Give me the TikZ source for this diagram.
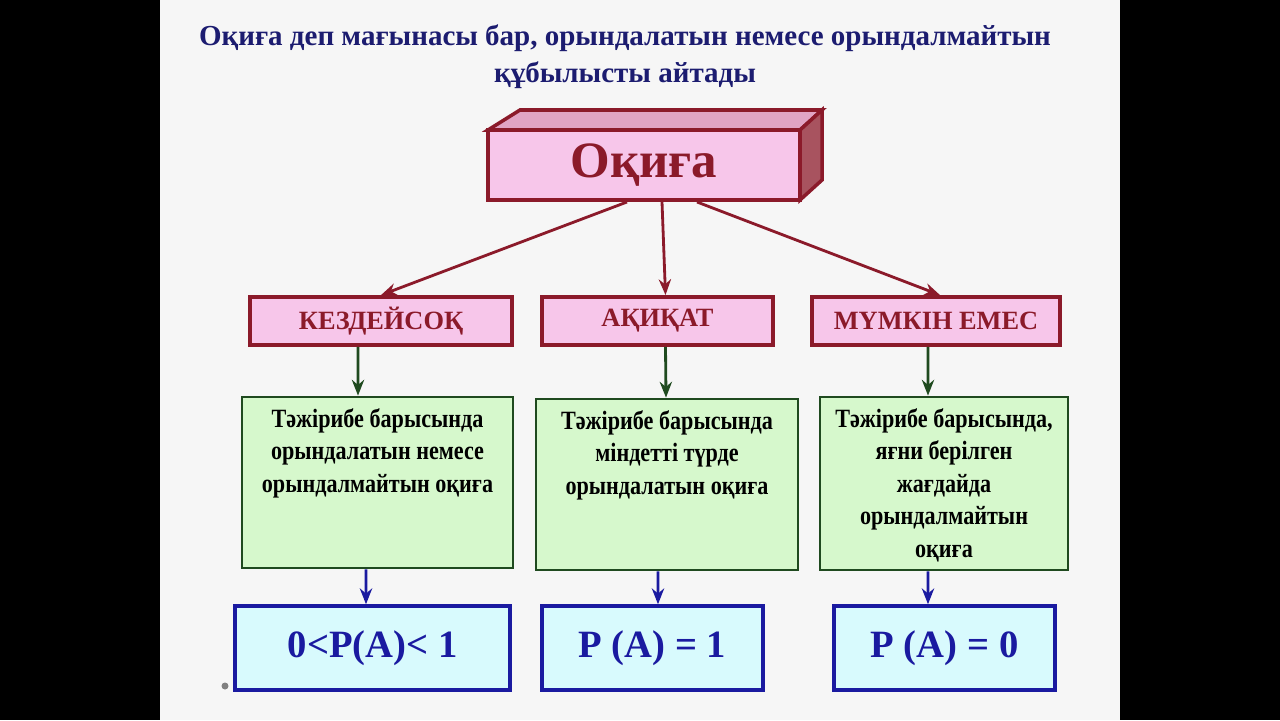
\documentclass[tikz,border=0pt]{standalone}
\usepackage{fontspec}
\setmainfont{Liberation Serif}
\newfontfamily\narrow[FakeStretch=0.84]{Liberation Serif}
\usetikzlibrary{arrows.meta}
\definecolor{dred}{HTML}{8B1A2A}
\definecolor{pinkf}{HTML}{F7C6EA}
\definecolor{dgreen}{HTML}{1F4A1F}
\definecolor{greenf}{HTML}{D6F8CC}
\definecolor{dblue}{HTML}{1A1AA0}
\definecolor{bluef}{HTML}{D8FAFD}
\definecolor{ttl}{HTML}{1C1C70}
\tikzset{
 pbox/.style={draw=dred,line width=2.2pt,fill=pinkf,text=dred,font=\bfseries\fontsize{15}{18}\selectfont},
 gbox/.style={draw=dgreen,line width=1.6pt,fill=greenf},
 gtxt/.style={font=\narrow\bfseries\fontsize{15}{18.5}\selectfont,align=center,anchor=north},
 bbox/.style={draw=dblue,line width=2pt,fill=bluef,text=dblue,font=\bfseries\fontsize{22}{26}\selectfont},
 rarr/.style={draw=dred,line width=1.6pt,-{Stealth[length=9pt,width=7pt]}},
 garr/.style={draw=dgreen,line width=1.6pt,-{Stealth[length=9pt,width=7pt]}},
 barr/.style={draw=dblue,line width=1.6pt,-{Stealth[length=9pt,width=7pt]}}
}
\begin{document}
\begin{tikzpicture}[x=0.02cm,y=-0.02cm]
\useasboundingbox (0,0) rectangle (1280,720);
\fill[black] (0,0) rectangle (1280,720);
\fill[white!93!gray] (160,0) rectangle (1120,720);
\node[text=ttl,font=\bfseries\fontsize{16.5}{21}\selectfont,align=center] (title) at (625,57)
 {Оқиға деп мағынасы бар, орындалатын немесе орындалмайтын\\құбылысты айтады};
% 3D box
\draw[dred,line width=2pt,fill=pinkf!80!dred] (488,130)--(520,110)--(822,110)--(800,130)--cycle;
\draw[dred,line width=2pt,fill=dred!75] (800,130)--(822,110)--(822,180)--(800,200)--cycle;
\draw[dred,line width=2pt,fill=pinkf] (488,130) rectangle (800,200);
\node[text=dred,font=\bfseries\fontsize{29}{34}\selectfont] (topt) at (644,165) {Оқиға};
\coordinate (t1) at (627,202); \coordinate (t2) at (662,202); \coordinate (t3) at (697,202);
\node[pbox,minimum width=5.24cm,minimum height=0.96cm] (p1) at (381,321) {КЕЗДЕЙСОҚ};
\node[pbox,minimum width=4.62cm,minimum height=0.96cm] (p2) at (657.5,321) {АҚИҚАТ};
\node[pbox,minimum width=4.96cm,minimum height=0.96cm] (p3) at (936,321) {МҮМКІН ЕМЕС};
\draw[rarr] (t1) -- (p1.north);
\draw[rarr] (t2) -- ([xshift=0.16cm]p2.north);
\draw[rarr] (t3) -- ([xshift=0.08cm]p3.north);
\node[gbox,minimum width=5.42cm,minimum height=3.42cm] (g1) at (377.5,482.5) {};
\node[gbox,minimum width=5.24cm,minimum height=3.42cm] (g2) at (667,484.5) {};
\node[gbox,minimum width=4.96cm,minimum height=3.46cm] (g3) at (944,483.5) {};
\node[gtxt] (g1t) at (377.5,402) {Тәжірибе барысында\\орындалатын немесе\\орындалмайтын оқиға};
\node[gtxt] (g2t) at (667,404) {Тәжірибе барысында\\міндетті түрде\\орындалатын оқиға};
\node[gtxt] (g3t) at (944,402) {Тәжірибе барысында,\\яғни берілген\\жағдайда\\орындалмайтын\\оқиға};
\draw[garr] ([xshift=-0.46cm]p1.south) -- ([xshift=-0.39cm]g1.north);
\draw[garr] ([xshift=0.16cm]p2.south) -- ([xshift=-0.02cm]g2.north);
\draw[garr] ([xshift=-0.16cm]p3.south) -- ([xshift=-0.32cm]g3.north);
\node[bbox,minimum width=5.5cm,minimum height=1.68cm] (b1) at (372.5,648) {0<P(A)< 1};
\node[bbox,minimum width=4.42cm,minimum height=1.68cm] (b2) at (652.5,648) {P (A) = 1};
\node[bbox,minimum width=4.42cm,minimum height=1.68cm] (b3) at (944.5,648) {P (A) = 0};
\draw[barr] ([xshift=-0.23cm]g1.south) -- ([xshift=-0.13cm]b1.north);
\draw[barr] ([xshift=-0.18cm]g2.south) -- ([xshift=0.11cm]b2.north);
\draw[barr] ([xshift=-0.32cm]g3.south) -- ([xshift=-0.33cm]b3.north);
\fill[gray] (225,686) circle (3.5);
\end{tikzpicture}
\end{document}
